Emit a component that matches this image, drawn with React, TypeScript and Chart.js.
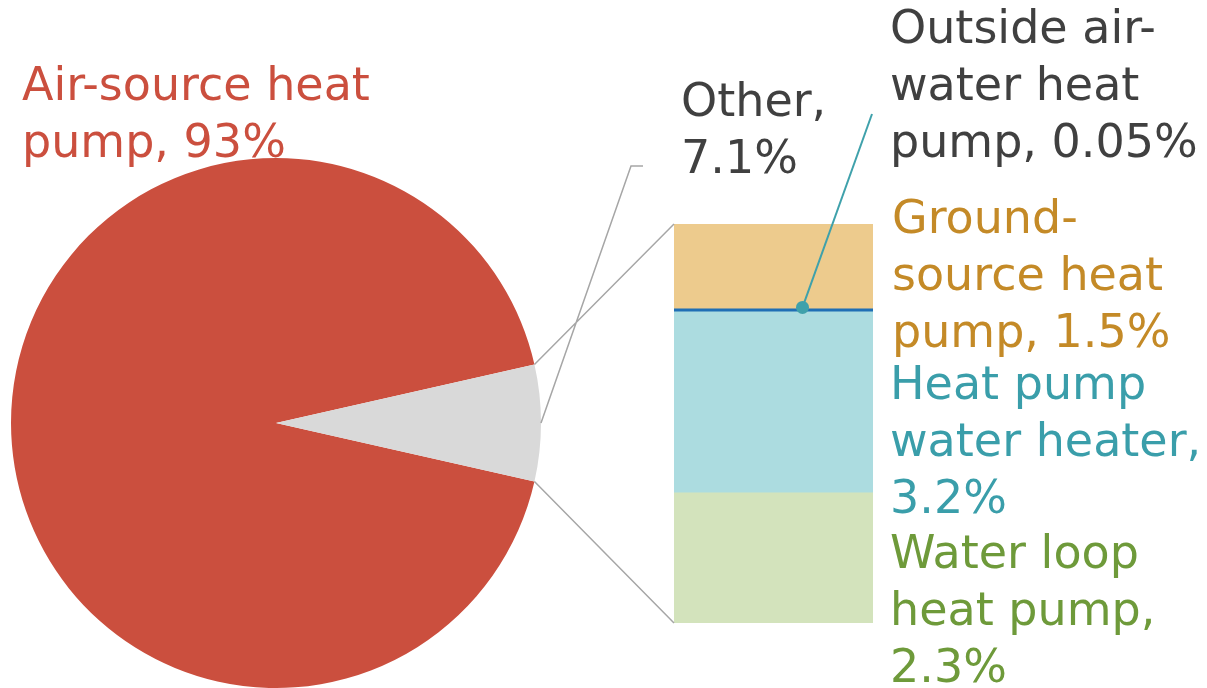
import React, { useEffect, useRef } from "react";
import { Chart, registerables } from "chart.js";

Chart.register(...registerables);

// ---- data ----
const pieLabels = ["Air-source heat pump", "Other"];
const pieValues = [93, 7.1];
const pieColors = ["#CB4F3E", "#D9D9D9"];

const barCategories = ["Other"];
const subLabels = [
  "Water loop heat pump",
  "Heat pump water heater",
  "Outside air-water heat pump",
  "Ground-source heat pump",
];
const subValues = [2.3, 3.2, 0.05, 1.5];
const subColors = ["#D3E3BC", "#ACDCE0", "#1F6FB5", "#EDCB8D"];

const airLabelLines = ["Air-source heat", "pump, 93%"];
const otherLabelLines = ["Other,", "7.1%"];
const outsideLabelLines = ["Outside air-", "water heat", "pump, 0.05%"];
const groundLabelLines = ["Ground-", "source heat", "pump, 1.5%"];
const hpwhLabelLines = ["Heat pump", "water heater,", "3.2%"];
const waterLoopLabelLines = ["Water loop", "heat pump,", "2.3%"];

const W = 1207;
const H = 688;
const FONT = '46px "DejaVu Sans"';
const LINE_H = 57;

export default function App() {
  const pieRef = useRef<HTMLCanvasElement | null>(null);
  const barRef = useRef<HTMLCanvasElement | null>(null);

  useEffect(() => {
    if (!pieRef.current || !barRef.current) return;
    const total = pieValues.reduce((a, b) => a + b, 0);
    const otherFrac = pieValues[1] / total;

    const pie = new Chart(pieRef.current, {
      type: "pie",
      data: {
        labels: pieLabels,
        datasets: [
          {
            data: pieValues,
            backgroundColor: pieColors,
            borderWidth: 0,
          },
        ],
      },
      options: {
        responsive: false,
        animation: false,
        rotation: 90 + otherFrac * 180,
        layout: { padding: { left: 11, top: 158, right: 666, bottom: 0 } },
        plugins: { legend: { display: false }, tooltip: { enabled: false } },
      },
    });

    const drawLines = (ctx: CanvasRenderingContext2D, lines: string[], x: number, y: number, color: string) => {
      ctx.fillStyle = color;
      lines.forEach((l, i) => ctx.fillText(l, x, y + i * LINE_H));
    };

    const overlay = {
      id: "overlay",
      afterDraw(chart: any) {
        const ctx: CanvasRenderingContext2D = chart.ctx;
        const arc: any = pie.getDatasetMeta(0).data[1];
        const p = arc.getProps(["x", "y", "startAngle", "endAngle", "outerRadius"], true);
        const r = p.outerRadius;
        const s = { x: p.x + r * Math.cos(p.startAngle), y: p.y + r * Math.sin(p.startAngle) };
        const e = { x: p.x + r * Math.cos(p.endAngle), y: p.y + r * Math.sin(p.endAngle) };
        const midA = (p.startAngle + p.endAngle) / 2;
        const m = { x: p.x + r * Math.cos(midA), y: p.y + r * Math.sin(midA) };

        const bottomBar: any = chart.getDatasetMeta(0).data[0];
        const topBar: any = chart.getDatasetMeta(3).data[0];
        const outsideBar: any = chart.getDatasetMeta(2).data[0];
        const left = bottomBar.x - bottomBar.width / 2;
        const right = bottomBar.x + bottomBar.width / 2;
        const top = topBar.y;
        const bottom = bottomBar.base;

        ctx.save();
        ctx.strokeStyle = "#A6A6A6";
        ctx.lineWidth = 1.5;
        ctx.beginPath();
        ctx.moveTo(s.x, s.y);
        ctx.lineTo(left, top);
        ctx.moveTo(e.x, e.y);
        ctx.lineTo(left, bottom);
        // Other leader
        ctx.moveTo(m.x, m.y);
        ctx.lineTo(631, 166);
        ctx.lineTo(643, 166);
        ctx.stroke();

        // Outside air-water leader
        const dot = { x: outsideBar.x + 29, y: outsideBar.y - 1.5 };
        ctx.strokeStyle = "#3FA1AB";
        ctx.lineWidth = 2;
        ctx.beginPath();
        ctx.moveTo(dot.x, dot.y);
        ctx.lineTo(right - 1, 114);
        ctx.stroke();
        ctx.fillStyle = "#3FA1AB";
        ctx.beginPath();
        ctx.arc(dot.x, dot.y, 6.5, 0, Math.PI * 2);
        ctx.fill();

        ctx.font = FONT;
        ctx.textBaseline = "alphabetic";
        ctx.textAlign = "left";
        drawLines(ctx, airLabelLines, 22, 100, "#CB4F3E");
        drawLines(ctx, otherLabelLines, 681, 116, "#404040");
        drawLines(ctx, outsideLabelLines, 890, 43, "#404040");
        drawLines(ctx, groundLabelLines, 892, 233, "#C48A27");
        drawLines(ctx, hpwhLabelLines, 890, 399, "#3A9EAA");
        drawLines(ctx, waterLoopLabelLines, 890, 568, "#6E9A3A");
        ctx.restore();
      },
    };

    const bar = new Chart(barRef.current, {
      type: "bar",
      data: {
        labels: barCategories,
        datasets: subLabels.map((label, i) => ({
          label,
          data: [subValues[i]],
          backgroundColor: subColors[i],
          borderWidth: 0,
          barPercentage: 1,
          categoryPercentage: 1,
        })),
      },
      options: {
        responsive: false,
        animation: false,
        layout: { padding: { left: 674, right: W - 873, top: 224, bottom: H - 623 } },
        scales: {
          x: { stacked: true, display: false },
          y: {
            stacked: true,
            display: false,
            min: 0,
            max: subValues.reduce((a, b) => a + b, 0),
          },
        },
        plugins: { legend: { display: false }, tooltip: { enabled: false } },
      },
      plugins: [overlay],
    });

    return () => {
      bar.destroy();
      pie.destroy();
    };
  }, []);

  return (
    <div style={{ position: "fixed", left: 0, top: 0, width: W, height: H, background: "#fff" }}>
      <canvas ref={pieRef} width={W} height={H} style={{ position: "absolute", left: 0, top: 0 }} />
      <canvas ref={barRef} width={W} height={H} style={{ position: "absolute", left: 0, top: 0 }} />
    </div>
  );
}
